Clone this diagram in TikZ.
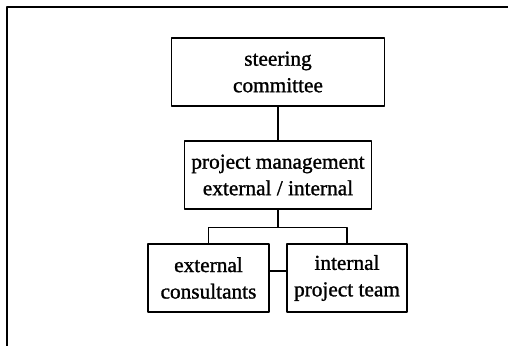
\documentclass[tikz,border=0pt]{standalone}
\usepackage{fontspec}
\setmainfont{Liberation Serif}
\newfontfamily\boxfont{Liberation Serif}[FakeBold=1.2]
\begin{document}
\begin{tikzpicture}[x=1pt, y=1pt, line join=round, line cap=round,
	unitbox/.style={draw, line width=1.3pt, inner sep=0pt, align=center,
		font=\boxfont\fontsize{21.3}{26.5}\selectfont}]
	\def\W{508} \def\H{345}
	\useasboundingbox (0,0) rectangle (\W,\H);
	% khung ngoai
	\draw[line width=1.6pt] (7,-5) -- (7,338) -- (\W+5,338);
	\node[unitbox, minimum width=213, minimum height=68] (steer) at (278,273) {steering\\committee};
	\node[unitbox, minimum width=187, minimum height=68] (pm) at (278,170) {project management\\external / internal};
	\node[unitbox, minimum width=121, minimum height=68] (ext) at (208.5,67) {external\\consultants};
	\node[unitbox, minimum width=120, minimum height=68] (int) at (347,67) {internal\\project team};
	\draw[line width=1.1pt] (steer.south) -- (pm.north);
	\draw[line width=1.1pt] (pm.south) -- ++(0,-18) -| (ext.north);
	\draw[line width=1.1pt] (pm.south) -- ++(0,-18) -| (int.north);
	\draw[line width=1.1pt] ([yshift=7]ext.east) -- ([yshift=7]int.west);
\end{tikzpicture}
\end{document}
